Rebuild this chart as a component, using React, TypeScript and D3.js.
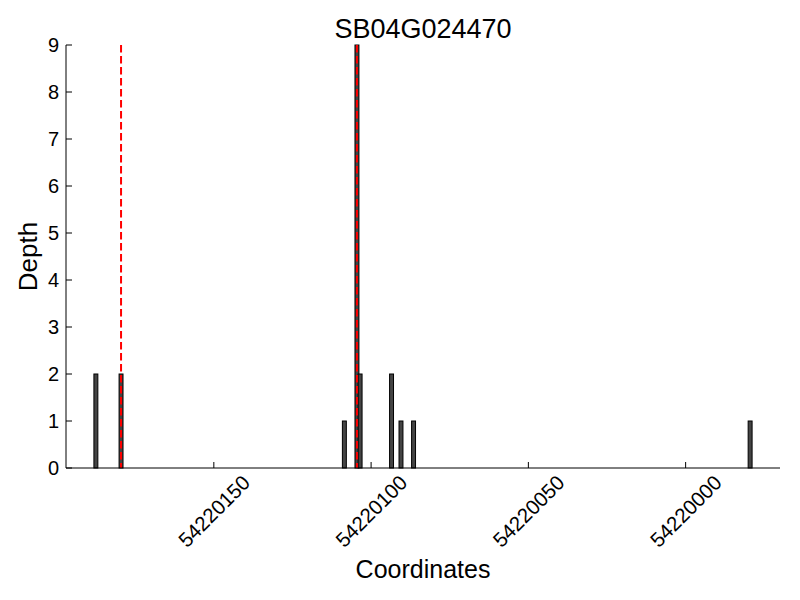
import React from "react";
import * as d3 from "d3";

const title = "SB04G024470";
const positions = [54220188, 54220180, 54220109, 54220105, 54220104, 54220094, 54220091, 54220087, 54219980];
const depths = [2, 2, 1, 9, 2, 2, 1, 1, 1];
const markerPositions = [54220180, 54220105];
const xTicks = [54220150, 54220100, 54220050, 54220000];
const yTicks = [0, 1, 2, 3, 4, 5, 6, 7, 8, 9];
const xDomain = [54220197, 54219970];
const yDomain = [0, 9];

const W = 800, H = 600;
const M = { left: 66, right: 20, top: 45, bottom: 132 };
const FONT = "'Liberation Sans', Arial, Helvetica, sans-serif";
const BAR_W = 1.0;

export default function App() {
  const x = d3.scaleLinear().domain(xDomain).range([M.left, W - M.right]);
  const y = d3.scaleLinear().domain(yDomain).range([H - M.bottom, M.top]);
  const y0 = y(0);
  return (
    <svg width={W} height={H} style={{ position: "absolute", left: 0, top: 0, background: "#fff" }} fontFamily={FONT}>
      {positions.map((p, i) => {
        const c = p - 0.5;
        const xl = x(c + BAR_W / 2);
        const xr = x(c - BAR_W / 2);
        return (
          <rect key={i} x={xl - 0.4} y={y(depths[i])} width={xr - xl + 0.8} height={y0 - y(depths[i])}
            fill="#444" stroke="#000" strokeWidth={1} />
        );
      })}
      {markerPositions.map((p, i) => (
        <line key={i} x1={x(p - 0.5)} x2={x(p - 0.5)} y1={y(9)} y2={y0}
          stroke="#ff0000" strokeWidth={2} strokeDasharray="7.6 3.4" />
      ))}
      <line x1={M.left} x2={M.left} y1={M.top} y2={y0} stroke="#000" strokeWidth={1} />
      <line x1={M.left} x2={W - M.right} y1={y0} y2={y0} stroke="#000" strokeWidth={1} />
      {yTicks.map((t) => (
        <g key={t}>
          <line x1={M.left} x2={M.left + 6} y1={y(t)} y2={y(t)} stroke="#000" />
          <text x={M.left - 7} y={y(t)} textAnchor="end" dominantBaseline="central" fontSize={20}>{t}</text>
        </g>
      ))}
      {xTicks.map((t) => (
        <g key={t}>
          <line x1={x(t)} x2={x(t)} y1={y0} y2={y0 - 6} stroke="#000" />
          <text transform={`translate(${x(t)},${y0 + 43}) rotate(-45)`} textAnchor="middle" dominantBaseline="central" fontSize={20.5}>{t}</text>
        </g>
      ))}
      <text x={(M.left + W - M.right) / 2} y={38} textAnchor="middle" fontSize={27}>{title}</text>
      <text x={(M.left + W - M.right) / 2} y={578} textAnchor="middle" fontSize={25}>Coordinates</text>
      <text transform={`translate(37,${(M.top + y0) / 2}) rotate(-90)`} textAnchor="middle" fontSize={26}>Depth</text>
    </svg>
  );
}
